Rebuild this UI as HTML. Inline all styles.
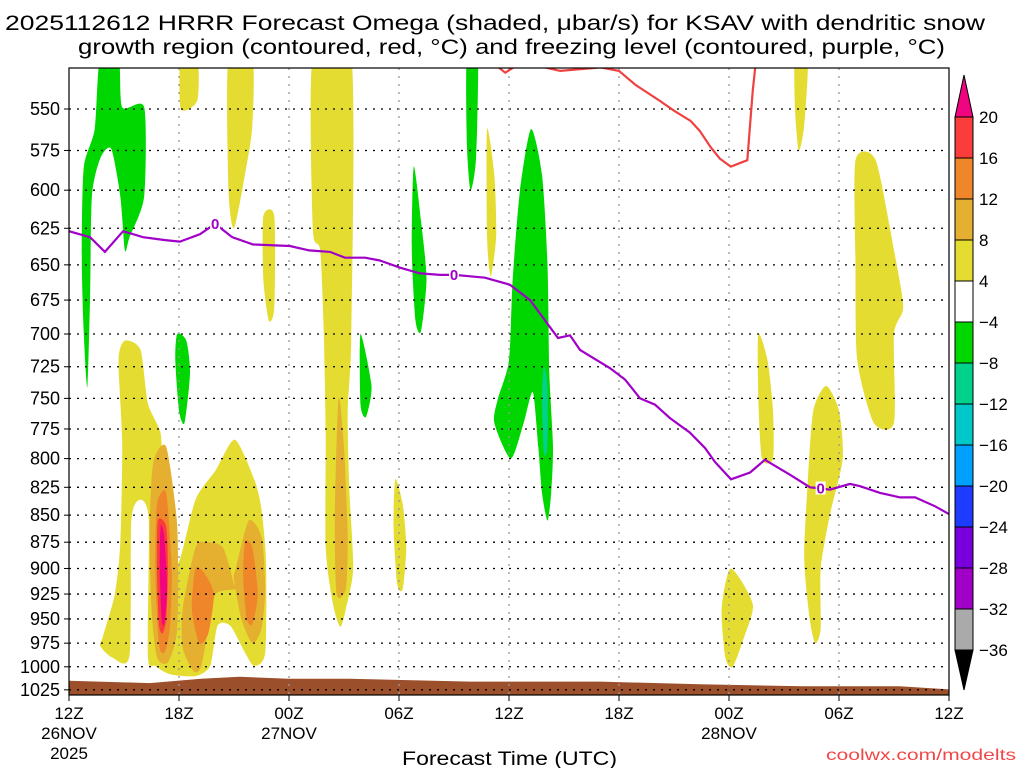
<!DOCTYPE html>
<html><head><meta charset="utf-8"><style>
html,body{margin:0;padding:0;background:#fff;}
svg{display:block;font-family:"Liberation Sans",sans-serif;}
</style></head><body>
<svg id="chart" width="1024" height="768" viewBox="0 0 1024 768">
<text x="5" y="30" font-size="21" textLength="980" lengthAdjust="spacingAndGlyphs">2025112612 HRRR Forecast Omega (shaded, μbar/s) for KSAV with dendritic snow</text>
<text x="78" y="54" font-size="21" textLength="867" lengthAdjust="spacingAndGlyphs">growth region (contoured, red, °C) and freezing level (contoured, purple, °C)</text>
<defs><clipPath id="pc"><rect x="69" y="68" width="880" height="627"/></clipPath></defs>
<g id="fills" clip-path="url(#pc)"></g>
<g id="grid"></g>
<g id="lines" clip-path="url(#pc)"></g>
<rect x="69" y="68" width="880" height="627" fill="none" stroke="#000" stroke-width="1.2"/>
<g id="yaxis"></g>
<g id="xaxis"></g>
<g id="cbar"></g>
<text x="402" y="765" font-size="19" textLength="215" lengthAdjust="spacingAndGlyphs">Forecast Time (UTC)</text>
<text x="826" y="760" font-size="16" fill="#f04848" textLength="190" lengthAdjust="spacingAndGlyphs">coolwx.com/modelts</text>
</svg>
<script>
const pressureTicks=[550,575,600,625,650,675,700,725,750,775,800,825,850,875,900,925,950,975,1000,1025];
const hourTicks=[0,6,12,18,24,30,36,42,48];
const hourLabels=["12Z","18Z","00Z","06Z","12Z","18Z","00Z","06Z","12Z"];
const dateLabels=["26NOV\n2025","","27NOV","","","","28NOV","",""];
const cbarLevels=[20,16,12,8,4,-4,-8,-12,-16,-20,-24,-28,-32,-36];
const cbarColors=["#fa3c3c","#f0862a","#e5af2f","#e5dc32","#ffffff","#00d700","#00d28c","#00c8c8","#00a0ff","#1e3cff","#7800dc","#a000c8","#aaaaaa"];
const freezeHours=[0,1.15,1.96,2.95,4.04,5.24,6.05,7.15,7.97,8.9,10.04,12.05,13.1,14.24,15.05,16.15,16.96,18.06,19.15,20.24,21.06,21.87,22.69,24.05,25.15,26.24,26.67,27.33,27.87,29.5,30.33,31.15,31.96,32.78,33.87,34.69,35.24,36.11,37.15,37.96,39.33,40.42,41.51,42.6,43.15,44.24,45.33,46.15,47.24,48];
const freezePres=[627,631,641,627,631,633,634,629,622,631,636,637,640,641,645,645,647,652,656,657,657,658,659,664,675,695,703,701,712,726,735,750,755,766,778,791,803,818,812,801,814,825,827,822,824,830,834,834,842,849];
const freezeLabelHours=[7.97,21.0,41.0];
const dgzSeg1=[[23.3,525],[23.8,529],[24.4,525]];
const dgzSeg2=[[25.5,525],[26.8,528],[27.9,527],[29,526],[30,528],[30.9,536],[32.2,545],[33,551],[33.9,557],[34.4,563],[35,573],[35.5,580],[36.1,585],[37,581],[37.3,539],[37.45,524]];
const groundHours=[0,4.4,7.2,9.3,12,15.3,21.9,29,34.4,40,45.3,48];
const groundPres=[1015,1017.6,1013,1010.7,1013,1013,1016,1016,1019,1021,1021,1024.5];
const yellowRegions=[
[[3.05,705],[3.9,712],[4.3,754],[5,779],[5.1,818],[5.4,855],[5.95,895],[6.9,836],[8.0,810],[9.05,784],[10.1,818],[10.5,845],[10.75,895],[10.7,985],[10.1,999],[9.6,985],[8.8,957],[8.1,957],[7.7,999],[6.9,1010],[5.5,1008],[4.7,999],[4.3,988],[4.35,855],[3.9,836],[3.4,855],[3.3,988],[2.35,990],[1.7,978],[1.85,968],[2.5,925],[2.8,875],[2.9,787],[2.7,720]],
[[6.1,520],[7.0,520],[7.0,545],[6.1,550]],
[[8.7,520],[10.0,520],[10.0,560],[9.6,590],[9.0,625],[8.7,600]],
[[10.6,617],[11.2,617],[11.2,680],[10.9,690],[10.6,660]],
[[13.3,520],[15.4,520],[15.4,700],[15.2,760],[15.3,830],[15.5,900],[15.1,940],[14.8,958],[14.4,935],[14.0,880],[14.0,780],[13.9,700],[13.7,640],[13.3,625]],
[[17.8,818],[18.2,840],[18.4,880],[18.2,920],[17.9,915],[17.7,860]],
[[22.8,562],[23.2,590],[23.3,630],[23.0,658],[22.8,630]],
[[39.6,520],[40.3,520],[40.1,560],[39.8,575],[39.6,550]],
[[42.9,581],[44.0,581],[45.0,640],[45.5,680],[45.0,700],[45.0,770],[43.9,770],[43.0,720],[42.9,650]],
[[37.6,700],[38.1,720],[38.4,760],[38.4,800],[37.8,800],[37.6,750]],
[[40.6,760],[41.3,740],[42.0,760],[42.2,800],[41.5,850],[41.0,900],[41.0,960],[40.7,975],[40.4,950],[40.1,890],[40.3,820]],
[[36.1,900],[37.3,935],[36.8,970],[36.2,1000],[35.8,990],[35.6,940]]];
const goldRegions=[
[[4.6,803],[5.3,790],[5.9,860],[5.9,960],[5.4,995],[4.8,990],[4.5,940],[4.4,860]],
[[6.2,940],[6.9,880],[7.5,875],[8.4,880],[9.0,915],[9.1,920],[8.0,925],[7.6,960],[7.2,1000],[6.8,1005],[6.2,980]],
[[9.1,900],[9.8,855],[10.5,870],[10.7,920],[10.5,960],[10.0,975],[9.4,950],[9.0,910]],
[[14.7,750],[15.0,790],[15.2,870],[15.1,920],[14.6,925],[14.5,850]]];
const orangeRegions=[
[[4.8,840],[5.3,830],[5.6,900],[5.5,960],[5.2,985],[4.9,975],[4.7,900]],
[[6.9,900],[7.4,905],[7.9,925],[7.6,965],[7.1,975],[6.7,940]],
[[9.6,875],[10.0,880],[10.3,925],[10.0,955],[9.7,950],[9.5,910]]];
const redRegions=[[[4.85,855],[5.3,860],[5.4,900],[5.3,950],[5.1,965],[4.9,955],[4.8,900]]];
const magentaRegions=[[[5.0,860],[5.2,870],[5.35,920],[5.2,955],[5.05,950],[4.95,900]]];
const greenRegions=[
[[1.7,520],[2.7,520],[2.9,549],[4.1,549],[4.1,604],[3.3,631],[3.05,640],[2.8,604],[2.3,574],[1.7,580],[1.25,604],[1.15,673],[1.0,741],[0.8,698],[0.7,645],[0.8,586],[1.4,562]],
[[5.9,700],[6.4,705],[6.6,730],[6.3,770],[6.0,760],[5.8,720]],
[[15.9,700],[16.5,740],[16.2,765],[15.9,755]],
[[18.8,585],[19.2,620],[19.5,660],[19.2,698],[18.9,690],[18.7,640]],
[[21.7,520],[22.3,520],[22.2,580],[21.9,600],[21.7,570]],
[[25.2,562],[25.8,590],[26.1,650],[26.2,730],[26.4,790],[26.3,830],[26.1,855],[25.8,830],[25.6,790],[25.3,745],[24.8,770],[24.1,800],[23.2,770],[23.4,750],[24.0,720],[24.2,660],[24.6,600]]];
const tealRegions=[[[25.9,725],[26.1,740],[26.1,790],[25.9,795],[25.8,750]]];

(function(){
const NS="http://www.w3.org/2000/svg";
const X0=69,X1=949,Y0=68,Y1=695;
function xs(h){return X0+h*(X1-X0)/48;}
function ys(p){return 109+933*Math.log(p/550);}
function mk(tag,attrs,parent){const e=document.createElementNS(NS,tag);for(const k in attrs)e.setAttribute(k,attrs[k]);parent.appendChild(e);return e;}
function smoothClosed(pts){
 const n=pts.length,t=0.12;let d="M"+pts[0][0].toFixed(1)+","+pts[0][1].toFixed(1);
 for(let i=0;i<n;i++){
  const p0=pts[(i-1+n)%n],p1=pts[i],p2=pts[(i+1)%n],p3=pts[(i+2)%n];
  const c1=[p1[0]+(p2[0]-p0[0])*t,p1[1]+(p2[1]-p0[1])*t];
  const c2=[p2[0]-(p3[0]-p1[0])*t,p2[1]-(p3[1]-p1[1])*t];
  d+="C"+c1[0].toFixed(1)+","+c1[1].toFixed(1)+" "+c2[0].toFixed(1)+","+c2[1].toFixed(1)+" "+p2[0].toFixed(1)+","+p2[1].toFixed(1);
 }
 return d+"Z";
}
const fills=document.getElementById('fills');
function drawRegions(list,color,name){list.forEach((r,i)=>{
 const e=mk('path',{d:smoothClosed(r.map(p=>[xs(p[0]),ys(p[1])])),fill:color},fills);
 
 
});}
drawRegions(yellowRegions,"#e5dc32","omega-4-8");
drawRegions(goldRegions,"#e5af2f","omega-8-12");
drawRegions(orangeRegions,"#f0862a","omega-12-16");
drawRegions(redRegions,"#fa3c3c","omega-16-20");
drawRegions(magentaRegions,"#f0047f","omega-gt-20");
drawRegions(greenRegions,"#00d700","omega-neg4-8");
drawRegions(tealRegions,"#00d28c","omega-neg8-12");
let gp=groundHours.map((h,i)=>xs(h).toFixed(1)+','+ys(groundPres[i]).toFixed(1));
gp.push(xs(48)+','+Y1,xs(0)+','+Y1);
const g=mk('polygon',{points:gp.join(' '),fill:"#9c4f2b"},fills);


const grid=document.getElementById('grid');
const yax=document.getElementById('yaxis');
pressureTicks.forEach(p=>{
 const y=ys(p);
 const l=mk('line',{x1:X0,x2:X1,y1:y,y2:y,stroke:"#000","stroke-dasharray":"2,6","stroke-width":1.3},grid);
 
 
 const t=mk('text',{x:60,y:y+6,"text-anchor":"end","font-size":18},yax);
 t.textContent=p;
 
 
 mk('line',{x1:X0-5,x2:X0,y1:y,y2:y,stroke:"#000"},yax);
});
const xax=document.getElementById('xaxis');
hourTicks.forEach((h,i)=>{
 const x=xs(h);
 if(i>0&&i<hourTicks.length-1){const l=mk('line',{x1:x,x2:x,y1:Y0,y2:Y1,stroke:"#999","stroke-dasharray":"2,6","stroke-width":1.3},grid);
 
 }
 mk('line',{x1:x,x2:x,y1:Y1,y2:Y1+6,stroke:"#000"},xax);
 const t=mk('text',{x:x,y:719,"text-anchor":"middle","font-size":17},xax);
 t.textContent=hourLabels[i];
 
 
 dateLabels[i].split("\n").forEach((s,j)=>{if(!s)return;
  const d=mk('text',{x:x,y:739+j*20,"text-anchor":"middle","font-size":17},xax);
  d.textContent=s;
  
  });
});
const lines=document.getElementById('lines');
const fz=mk('polyline',{points:freezeHours.map((h,i)=>xs(h).toFixed(1)+','+ys(freezePres[i]).toFixed(1)).join(' '),fill:"none",stroke:"#a000c8","stroke-width":2.2},lines);


freezeLabelHours.forEach((h,k)=>{
 let i=0;while(i<freezeHours.length-2&&freezeHours[i+1]<h)i++;
 const f=(h-freezeHours[i])/(freezeHours[i+1]-freezeHours[i]);
 const p=freezePres[i]+f*(freezePres[i+1]-freezePres[i]);
 mk('rect',{x:xs(h)-5,y:ys(p)-7,width:10,height:13,fill:"#fff"},lines);
 const t=mk('text',{x:xs(h),y:ys(p)+5,"text-anchor":"middle","font-size":15,"font-weight":"bold",fill:"#a000c8"},lines);
 t.textContent="0";
 
 
});
[dgzSeg1,dgzSeg2].forEach((s,k)=>{
 const e=mk('polyline',{points:s.map(p=>xs(p[0]).toFixed(1)+','+ys(p[1]).toFixed(1)).join(' '),fill:"none",stroke:"#f04040","stroke-width":2.2},lines);
 
 
});
const cb=document.getElementById('cbar');
const CX=955,CW=18,CT=117,CB=650,step=(CB-CT)/(cbarLevels.length-1);
const upArrow=mk('polygon',{points:`${CX},${CT} ${CX+CW},${CT} ${CX+CW/2},${CT-42}`,fill:"#f0047f",stroke:"#000"},cb);


cbarColors.forEach((c,i)=>{
 const r=mk('rect',{x:CX,y:CT+i*step,width:CW,height:step,fill:c,stroke:"#000"},cb);
 
 
});
const downArrow=mk('polygon',{points:`${CX},${CB} ${CX+CW},${CB} ${CX+CW/2},${CB+40}`,fill:"#000",stroke:"#000"},cb);


cbarLevels.forEach((v,i)=>{
 const t=mk('text',{x:979,y:CT+i*step+6,"font-size":17},cb);
 t.textContent=v<0?"−"+(-v):v;
 
 
});
})();
</script>
</body></html>
